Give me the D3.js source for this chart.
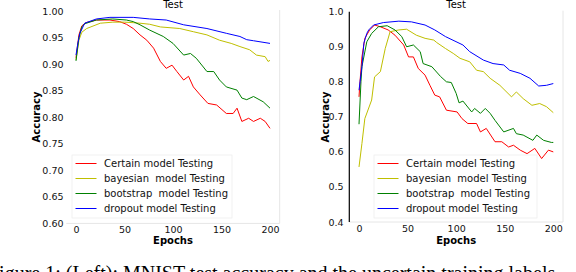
<!DOCTYPE html>
<html lang="en">
<head>
<meta charset="UTF-8">
<title>Test accuracy</title>
<style>
  body { margin: 0; background: #fff; }
  svg { display: block; font-family: "DejaVu Sans", sans-serif; }
</style>
</head>
<body>
<div id="chart"></div>
<script src="https://d3js.org/d3.v7.min.js"></script>
<script>
// values, [epoch, accuracy]
var leftCertain = [[0,0.912],[3,0.955],[6,0.972],[10,0.978],[21,0.983],[35,0.983],[45,0.980],[52,0.975],[59,0.967],[66,0.955],[73,0.945],[80,0.930],[87,0.905],[93,0.892],[99,0.898],[104,0.886],[111,0.870],[116,0.877],[121,0.857],[128,0.842],[136,0.826],[145,0.823],[155,0.807],[162,0.807],[166,0.817],[171,0.792],[178,0.798],[183,0.792],[190,0.798],[195,0.792],[200,0.779]];
var leftBayes = [[0,0.908],[3,0.945],[6,0.960],[11,0.967],[25,0.977],[38,0.979],[50,0.979],[59,0.978],[66,0.977],[76,0.975],[87,0.970],[107,0.967],[121,0.961],[135,0.955],[148,0.945],[160,0.939],[169,0.933],[179,0.927],[186,0.917],[195,0.914],[198,0.905],[200,0.907]];
var leftBoot = [[0,0.906],[3,0.950],[6,0.970],[9,0.976],[21,0.983],[38,0.985],[52,0.983],[59,0.980],[66,0.974],[76,0.964],[90,0.952],[100,0.939],[111,0.917],[118,0.920],[124,0.911],[135,0.886],[142,0.886],[148,0.870],[155,0.857],[166,0.851],[171,0.836],[176,0.833],[183,0.839],[193,0.829],[200,0.817]];
var leftDrop = [[0,0.917],[2,0.940],[4,0.958],[9,0.977],[21,0.985],[35,0.988],[59,0.988],[76,0.985],[93,0.983],[111,0.974],[135,0.967],[155,0.958],[169,0.952],[176,0.946],[183,0.944],[200,0.939]];

var rightCertain = [[0,0.757],[1,0.800],[3,0.871],[6,0.924],[11,0.948],[16,0.962],[22,0.957],[30,0.948],[37,0.933],[46,0.905],[51,0.871],[56,0.871],[61,0.838],[68,0.819],[73,0.790],[78,0.762],[83,0.757],[90,0.719],[101,0.714],[106,0.695],[112,0.681],[121,0.681],[125,0.657],[131,0.667],[140,0.629],[147,0.629],[154,0.614],[159,0.619],[166,0.605],[173,0.595],[181,0.610],[188,0.581],[195,0.605],[200,0.600]];
var rightBayes = [[0,0.557],[3,0.624],[6,0.695],[13,0.748],[16,0.814],[22,0.829],[27,0.895],[32,0.943],[41,0.948],[49,0.950],[59,0.933],[68,0.924],[77,0.919],[80,0.912],[89,0.895],[97,0.881],[104,0.867],[114,0.857],[121,0.833],[128,0.829],[135,0.810],[145,0.790],[157,0.757],[162,0.771],[169,0.752],[178,0.733],[186,0.738],[193,0.729],[200,0.712]];
var rightBoot = [[0,0.679],[2,0.800],[3,0.843],[8,0.914],[13,0.938],[20,0.957],[29,0.960],[37,0.948],[44,0.929],[49,0.900],[56,0.905],[63,0.886],[66,0.852],[75,0.843],[84,0.815],[90,0.800],[95,0.798],[100,0.767],[103,0.740],[107,0.745],[116,0.714],[119,0.724],[125,0.710],[130,0.724],[135,0.710],[140,0.690],[149,0.657],[159,0.667],[162,0.652],[169,0.648],[179,0.633],[183,0.648],[190,0.633],[198,0.627],[200,0.627]];
var rightDrop = [[0,0.776],[3,0.843],[5,0.910],[8,0.938],[10,0.948],[15,0.962],[25,0.969],[41,0.973],[54,0.971],[68,0.962],[78,0.948],[89,0.929],[107,0.905],[114,0.886],[128,0.862],[138,0.852],[149,0.848],[155,0.833],[166,0.824],[176,0.810],[185,0.788],[193,0.790],[200,0.795]];

var legendNames = ["Certain model Testing", "bayesian  model Testing", "bootstrap  model Testing", "dropout model Testing"];
var colors = ["#ff0000", "#bfbf00", "#008000", "#0000ff"];
var xTicks = [0, 50, 100, 150, 200];
var leftYTicks = [0.60, 0.65, 0.70, 0.75, 0.80, 0.85, 0.90, 0.95, 1.00];
var rightYTicks = [0.4, 0.5, 0.6, 0.7, 0.8, 0.9, 1.0];

var width = 576, height = 272;

var svg = d3.select("#chart").append("svg")
  .attr("width", width)
  .attr("height", height);

function panel(opts) {
  var x = d3.scaleLinear().domain([-10, 210]).range([opts.left, opts.right]);
  var y = d3.scaleLinear().domain(opts.yDomain).range([opts.bottom, opts.top]);
  var g = svg.append("g");

  // light frame bottom / right
  g.append("line").attr("x1", opts.left).attr("x2", opts.right)
    .attr("y1", opts.bottom).attr("y2", opts.bottom)
    .attr("stroke", "#e6e6e6").attr("stroke-width", 1);
  g.append("line").attr("x1", opts.right).attr("x2", opts.right)
    .attr("y1", opts.top - 1).attr("y2", opts.bottom)
    .attr("stroke", "#e6e6e6").attr("stroke-width", 1);
  if (opts.spine) {
    g.append("line").attr("x1", opts.left).attr("x2", opts.left)
      .attr("y1", opts.top).attr("y2", opts.bottom)
      .attr("stroke", "#000").attr("stroke-width", 1.2);
  }

  var xAxis = g.append("g")
    .attr("transform", "translate(0," + opts.bottom + ")")
    .call(d3.axisBottom(x).tickValues(xTicks).tickSize(0).tickPadding(3).tickFormat(d3.format("d")));
  xAxis.select(".domain").remove();
  xAxis.selectAll("text").attr("font-size", "9.5px").attr("font-family", "DejaVu Sans").attr("fill", "#111");

  var yAxis = g.append("g")
    .attr("transform", "translate(" + opts.labelX + ",0)")
    .call(d3.axisLeft(y).tickValues(opts.yTicks).tickSize(0).tickPadding(0).tickFormat(d3.format(opts.fmt)));
  yAxis.select(".domain").remove();
  yAxis.selectAll("text").attr("font-size", "9.5px").attr("font-family", "DejaVu Sans").attr("fill", "#111");

  var line = d3.line().x(d => x(d[0])).y(d => y(d[1]));
  opts.series.forEach(function (s, i) {
    g.append("path").datum(s)
      .attr("fill", "none")
      .attr("stroke", colors[i])
      .attr("stroke-width", 1)
      .attr("d", line);
  });

  var cx = (x(0) + x(200)) / 2;
  g.append("text").attr("x", cx).attr("y", 7.5)
    .attr("text-anchor", "middle").attr("font-size", "10px").text("Test");
  g.append("text").attr("x", cx).attr("y", 244)
    .attr("text-anchor", "middle").attr("font-size", "10px").attr("font-weight", "bold").text("Epochs");
  g.append("text")
    .attr("transform", "translate(" + opts.yLabelX + ",117) rotate(-90)")
    .attr("text-anchor", "middle").attr("font-size", "10px").attr("font-weight", "bold").text("Accuracy");

  // legend
  var lg = g.append("g").attr("transform", "translate(" + opts.legX + ",155)");
  lg.append("rect").attr("width", opts.legW).attr("height", 63)
    .attr("fill", "#fff").attr("fill-opacity", 0.85)
    .attr("stroke", "#eeeeee").attr("stroke-width", 0.8);
  legendNames.forEach(function (name, i) {
    var yy = 8.5 + i * 15;
    lg.append("line").attr("x1", 3.5).attr("x2", 24.5).attr("y1", yy).attr("y2", yy)
      .attr("stroke", colors[i]).attr("stroke-width", 1);
    lg.append("text").attr("x", 32).attr("y", yy + 3.6)
      .attr("font-size", "10px").attr("fill", "#111")
      .style("white-space", "pre").text(name);
  });
}

panel({
  left: 66.3, right: 279.7, top: 11, bottom: 223.4,
  yDomain: [0.60, 1.00], yTicks: leftYTicks, fmt: ".2f",
  labelX: 63.5, yLabelX: 40, spine: false,
  series: [leftCertain, leftBayes, leftBoot, leftDrop],
  legX: 72, legW: 160
});

panel({
  left: 349.3, right: 563, top: 11.7, bottom: 222,
  yDomain: [0.4, 1.0], yTicks: rightYTicks, fmt: ".1f",
  labelX: 343.5, yLabelX: 329, spine: true,
  series: [rightCertain, rightBayes, rightBoot, rightDrop],
  legX: 374, legW: 163
});

// caption, cut off by the bottom edge
svg.append("text")
  .attr("x", -12).attr("y", 280)
  .attr("font-family", "Liberation Serif, serif")
  .attr("font-size", "20px")
  .attr("fill", "#000")
  .text("Figure 1: (Left): MNIST test accuracy and the uncertain training labels");
</script>
</body>
</html>
